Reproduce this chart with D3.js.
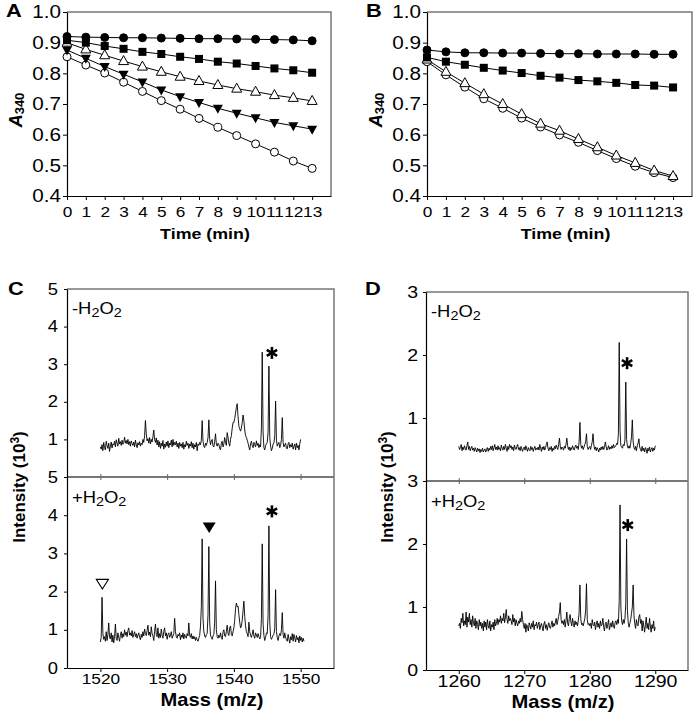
<!DOCTYPE html>
<html>
<head>
<meta charset="utf-8">
<script src="https://cdn.jsdelivr.net/npm/d3@7"></script>
<style>
    body { margin: 0; background: #fff; }
    svg { display: block; }
</style>
</head>
<body>
<svg id="fig"></svg>
<script>
// ---- data: A340 time courses ----
const timeMin = [0, 1, 2, 3, 4, 5, 6, 7, 8, 9, 10, 11, 12, 13];
const a340Ticks = [0.4, 0.5, 0.6, 0.7, 0.8, 0.9, 1.0];

const aFilledCircle = [0.920, 0.918, 0.917, 0.916, 0.916, 0.915, 0.914, 0.913, 0.913, 0.912, 0.911, 0.910, 0.909, 0.906];
const aFilledSquare = [0.908, 0.900, 0.889, 0.880, 0.870, 0.863, 0.854, 0.847, 0.838, 0.832, 0.824, 0.816, 0.810, 0.802];
const aOpenTriUp = [0.900, 0.878, 0.859, 0.840, 0.822, 0.805, 0.789, 0.775, 0.762, 0.750, 0.740, 0.729, 0.720, 0.710];
const aFilledTriDown = [0.876, 0.849, 0.822, 0.797, 0.772, 0.746, 0.724, 0.705, 0.686, 0.670, 0.655, 0.640, 0.629, 0.618];
const aOpenCircle = [0.854, 0.827, 0.801, 0.771, 0.741, 0.711, 0.683, 0.653, 0.624, 0.597, 0.570, 0.543, 0.514, 0.490];

const bFilledCircle = [0.876, 0.870, 0.867, 0.867, 0.866, 0.866, 0.865, 0.864, 0.864, 0.863, 0.863, 0.863, 0.862, 0.862];
const bFilledSquare = [0.852, 0.838, 0.828, 0.818, 0.809, 0.801, 0.792, 0.786, 0.778, 0.774, 0.769, 0.762, 0.760, 0.754];
const bOpenTriUp = [0.845, 0.805, 0.768, 0.732, 0.700, 0.667, 0.636, 0.613, 0.586, 0.559, 0.532, 0.508, 0.483, 0.465];
const bOpenCircle = [0.838, 0.795, 0.755, 0.717, 0.686, 0.654, 0.625, 0.599, 0.575, 0.548, 0.522, 0.497, 0.476, 0.460];

// ---- data: MALDI spectra, intensity (10^3), one value every 0.125 m/z ----
const specStep = 0.125;
const cStart = 1520;
const cMinus = [
    0.80, 0.74, 0.86, 0.70, 0.92, 0.78, 0.72, 0.95, 0.84, 0.76, 0.90, 0.68, 0.82, 0.93, 0.77, 0.88,
    0.85, 0.95, 0.80, 0.99, 0.90, 0.82, 1.03, 0.88, 0.94, 0.84, 0.98, 0.87, 0.92, 1.06, 0.90, 0.97,
    0.88, 1.00, 0.86, 0.94, 0.82, 0.96, 0.89, 0.84, 0.93, 0.80, 0.98, 0.86, 0.78, 0.91, 0.85, 0.94,
    0.82, 0.90, 0.86, 1.00, 0.92, 1.10, 1.50, 1.15, 0.96, 1.02, 0.90, 1.05, 0.88, 1.00, 0.93, 1.08,
    1.25, 1.00, 0.92, 1.04, 0.85, 0.98, 0.80, 0.94, 0.76, 0.90, 0.82, 0.97, 0.74, 0.88, 0.79, 0.93,
    0.82, 0.96, 0.78, 0.90, 0.85, 0.98, 0.80, 1.00, 0.84, 0.92, 0.86, 0.95, 0.80, 0.90, 0.76, 0.92,
    0.82, 0.88, 0.78, 0.92, 0.74, 0.86, 0.80, 0.95, 0.84, 0.90, 0.76, 0.88, 0.82, 0.94, 0.78, 0.90,
    0.74, 0.86, 0.80, 0.92, 0.70, 0.88, 0.84, 0.92, 0.86, 0.98, 1.50, 0.95, 0.82, 0.78, 0.90, 0.84,
    0.92, 1.05, 1.52, 1.00, 0.86, 0.96, 1.00, 0.82, 0.80, 0.95, 1.15, 0.88, 0.82, 0.90, 0.86, 0.76,
    0.72, 0.90, 0.95, 0.80, 0.88, 1.05, 0.92, 0.84, 1.18, 1.05, 0.90, 0.82, 1.00, 1.10, 1.30, 1.45,
    1.45, 1.55, 1.70, 1.85, 1.95, 1.60, 1.35, 1.28, 1.22, 1.30, 1.45, 1.65, 1.50, 1.25, 1.10, 1.05,
    0.98, 0.90, 0.80, 0.72, 0.88, 0.95, 0.84, 0.78, 0.92, 0.86, 0.80, 0.96, 0.84, 0.90, 0.78, 0.86,
    0.80, 1.30, 3.32, 1.20, 0.78, 0.72, 0.84, 0.88, 0.92, 1.20, 2.95, 1.05, 0.82, 0.70, 0.76, 0.88,
    0.90, 1.10, 2.02, 0.98, 0.82, 0.88, 0.92, 0.78, 0.84, 1.00, 1.58, 0.92, 0.80, 0.86, 0.90, 0.76,
    0.75, 0.88, 0.92, 0.78, 0.86, 0.80, 0.90, 0.74, 0.82, 0.88, 0.72, 0.90, 0.78, 0.84, 0.72, 0.88,
    1.00
];
const cPlus = [
    0.68, 0.80, 1.85, 0.90, 0.75, 0.82, 0.70, 0.95, 0.72, 0.88, 1.18, 0.80, 0.76, 0.92, 0.68, 0.86,
    0.66, 0.82, 1.15, 0.78, 0.72, 0.92, 0.80, 0.70, 0.86, 0.95, 0.78, 0.90, 0.82, 1.00, 0.86, 0.94,
    0.82, 0.98, 1.05, 0.86, 0.92, 0.84, 0.98, 0.80, 0.88, 0.95, 0.82, 0.90, 0.78, 0.86, 0.92, 0.80,
    0.74, 0.88, 0.80, 0.95, 0.84, 1.02, 0.90, 0.85, 0.98, 1.12, 0.86, 0.94, 0.82, 1.08, 0.90, 0.84,
    0.72, 0.96, 1.15, 0.88, 0.82, 1.05, 0.78, 0.90, 0.80, 1.02, 0.86, 0.78, 0.96, 1.05, 0.84, 0.92,
    0.75, 0.88, 0.92, 0.80, 0.86, 0.95, 0.78, 0.84, 0.90, 1.30, 0.95, 0.82, 0.78, 0.88, 0.84, 0.92,
    0.74, 0.86, 0.80, 0.92, 0.76, 0.88, 0.82, 0.78, 0.90, 0.84, 1.18, 0.86, 0.80, 0.90, 0.76, 0.84,
    0.76, 0.82, 0.72, 0.80, 0.74, 0.70, 0.78, 0.85, 1.10, 1.60, 3.38, 1.30, 0.95, 0.84, 0.80, 0.88,
    0.90, 1.40, 3.18, 1.20, 0.86, 0.80, 0.75, 0.84, 0.88, 1.20, 2.28, 1.00, 0.82, 0.78, 0.86, 0.80,
    0.92, 0.80, 0.75, 0.95, 1.00, 0.84, 0.82, 0.96, 1.12, 0.90, 0.85, 1.05, 1.10, 0.88, 0.84, 0.95,
    1.05, 1.25, 1.55, 1.70, 1.60, 1.62, 1.40, 1.20, 1.05, 1.10, 1.25, 1.50, 1.75, 1.35, 1.10, 0.95,
    0.90, 0.82, 1.20, 0.95, 0.86, 0.80, 0.88, 1.00, 0.84, 0.78, 0.92, 0.86, 0.80, 0.90, 0.82, 0.76,
    0.80, 1.30, 3.25, 1.15, 0.85, 0.72, 0.80, 0.92, 0.90, 1.40, 3.72, 1.20, 0.82, 0.75, 0.80, 0.86,
    0.88, 1.05, 2.05, 0.95, 0.80, 0.72, 0.84, 0.90, 0.85, 1.00, 1.45, 0.88, 0.78, 0.92, 0.80, 0.74,
    0.70, 0.88, 0.76, 0.65, 0.82, 0.74, 0.90, 0.70, 0.88, 0.78, 0.68, 0.85, 0.74, 0.80, 0.66, 0.84,
    0.72, 0.80, 0.68, 0.78, 0.70
];
const dStart = 1260;
const dMinus = [
    0.55, 0.50, 0.53, 0.58, 0.48, 0.54, 0.50, 0.56, 0.52, 0.49, 0.56, 0.62, 0.50, 0.55, 0.48, 0.52,
    0.55, 0.49, 0.52, 0.47, 0.53, 0.50, 0.46, 0.52, 0.48, 0.51, 0.45, 0.50, 0.47, 0.52, 0.46, 0.49,
    0.51, 0.46, 0.50, 0.53, 0.47, 0.52, 0.49, 0.55, 0.50, 0.56, 0.48, 0.53, 0.58, 0.50, 0.54, 0.49,
    0.56, 0.50, 0.53, 0.48, 0.57, 0.52, 0.49, 0.55, 0.50, 0.58, 0.52, 0.47, 0.55, 0.50, 0.58, 0.53,
    0.56, 0.50, 0.54, 0.48, 0.57, 0.52, 0.50, 0.55, 0.58, 0.50, 0.53, 0.48, 0.55, 0.51, 0.47, 0.52,
    0.54, 0.49, 0.56, 0.51, 0.47, 0.53, 0.50, 0.48, 0.55, 0.50, 0.53, 0.47, 0.52, 0.55, 0.49, 0.52,
    0.50, 0.54, 0.49, 0.58, 0.52, 0.47, 0.54, 0.50, 0.55, 0.49, 0.53, 0.58, 0.62, 0.52, 0.48, 0.53,
    0.50, 0.55, 0.47, 0.52, 0.49, 0.55, 0.51, 0.57, 0.53, 0.50, 0.58, 0.68, 0.55, 0.50, 0.54, 0.52,
    0.49, 0.55, 0.52, 0.58, 0.68, 0.56, 0.50, 0.54, 0.48, 0.53, 0.50, 0.56, 0.52, 0.49, 0.54, 0.57,
    0.52, 0.55, 0.50, 0.62, 0.93, 0.58, 0.52, 0.56, 0.50, 0.54, 0.58, 0.62, 0.75, 0.55, 0.50, 0.53,
    0.55, 0.50, 0.56, 0.62, 0.75, 0.57, 0.50, 0.54, 0.48, 0.53, 0.50, 0.46, 0.52, 0.49, 0.54, 0.50,
    0.55, 0.50, 0.53, 0.62, 0.55, 0.49, 0.52, 0.56, 0.50, 0.54, 0.51, 0.56, 0.52, 0.58, 0.53, 0.55,
    0.56, 0.60, 0.58, 0.75, 2.20, 0.80, 0.56, 0.54, 0.52, 0.58, 0.56, 0.65, 1.57, 0.66, 0.55, 0.52,
    0.56, 0.52, 0.60, 0.70, 0.97, 0.62, 0.53, 0.50, 0.55, 0.48, 0.56, 0.60, 0.67, 0.54, 0.50, 0.47,
    0.55, 0.48, 0.52, 0.46, 0.53, 0.50, 0.44, 0.52, 0.48, 0.54, 0.46, 0.50, 0.53, 0.47, 0.52, 0.49,
    0.56
];
const dPlus = [
    0.70, 0.74, 0.66, 0.82, 0.75, 0.90, 0.70, 0.78, 0.72, 0.92, 0.68, 0.84, 0.76, 0.90, 0.72, 0.80,
    0.68, 0.86, 0.74, 0.70, 0.82, 0.66, 0.78, 0.72, 0.64, 0.80, 0.70, 0.76, 0.66, 0.74, 0.62, 0.78,
    0.68, 0.76, 0.64, 0.80, 0.70, 0.66, 0.78, 0.62, 0.72, 0.68, 0.76, 0.64, 0.80, 0.70, 0.74, 0.82,
    0.72, 0.80, 0.76, 0.86, 0.74, 0.82, 0.78, 0.90, 0.75, 0.84, 0.96, 0.80, 0.74, 0.86, 0.78, 0.82,
    0.78, 0.72, 0.88, 0.76, 0.82, 0.70, 0.80, 0.74, 0.70, 0.78, 0.74, 0.82, 0.76, 0.93, 0.80, 0.72,
    0.66, 0.74, 0.60, 0.72, 0.68, 0.62, 0.75, 0.70, 0.65, 0.74, 0.68, 0.78, 0.64, 0.72, 0.70, 0.76,
    0.66, 0.72, 0.76, 0.64, 0.70, 0.74, 0.68, 0.62, 0.73, 0.77, 0.66, 0.72, 0.63, 0.70, 0.75, 0.68,
    0.66, 0.72, 0.78, 0.68, 0.74, 0.70, 0.76, 0.82, 0.72, 0.78, 0.85, 0.92, 1.07, 0.80, 0.74, 0.78,
    0.72, 0.80, 0.68, 0.78, 0.92, 0.74, 0.70, 0.82, 0.88, 0.76, 0.70, 0.82, 0.74, 0.68, 0.78, 0.72,
    0.76, 0.70, 0.78, 0.90, 1.35, 0.82, 0.72, 0.74, 0.70, 0.76, 0.82, 0.95, 1.37, 0.80, 0.72, 0.74,
    0.70, 0.74, 0.66, 0.80, 0.72, 0.70, 0.76, 0.64, 0.72, 0.78, 0.68, 0.74, 0.66, 0.78, 0.70, 0.72,
    0.82, 0.68, 0.62, 0.74, 0.76, 0.66, 0.72, 0.80, 0.64, 0.70, 0.75, 0.68, 0.78, 0.70, 0.66, 0.76,
    0.78, 0.72, 0.80, 0.74, 1.10, 2.62, 1.00, 0.78, 0.72, 0.80, 0.74, 0.82, 1.05, 2.08, 0.95, 0.75,
    0.68, 0.74, 0.80, 0.90, 1.00, 1.35, 0.86, 0.74, 0.66, 0.80, 0.72, 0.70, 0.84, 0.88, 0.74, 0.80,
    0.62, 0.78, 0.70, 0.60, 0.72, 0.84, 0.66, 0.74, 0.64, 0.82, 0.70, 0.60, 0.72, 0.66, 0.78, 0.62,
    0.68
];

const cMassTicks = [1520, 1530, 1540, 1550];
const dMassTicks = [1260, 1270, 1280, 1290];

// peak annotations [m/z, intensity]
const cMinusStar = [1545.7, 3.3];
const cPlusStar = [1545.7, 4.1];
const cPlusOpenTri = [1520.3, 2.2];
const cPlusFilledTri = [1536.3, 3.68];
const dMinusStar = [1285.7, 1.87];
const dPlusStar = [1285.8, 2.3];

// ---- setup ----
const W = 693, H = 717;
const FONT = '"Liberation Sans", Arial, Helvetica, sans-serif';
const SX = 1.15; // the source figure's lettering is a little wider than Arial

const svg = d3.select("#fig")
    .attr("width", W)
    .attr("height", H)
    .style("font-family", FONT);

svg.append("rect").attr("width", W).attr("height", H).attr("fill", "#fff");

// widen text horizontally about its own anchor
function stretch(sel) {
    sel.each(function () {
        const t = d3.select(this);
        const x = +t.attr("x") || 0;
        t.attr("transform", `translate(${x},0) scale(${SX},1) translate(${-x},0)`);
    });
    return sel;
}

function styleAxis(g, size) {
    g.select(".domain").attr("stroke", "#000").attr("stroke-width", 1.2);
    g.selectAll(".tick line").attr("stroke", "#000");
    g.selectAll(".tick text")
        .attr("fill", "#000")
        .style("font-family", FONT)
        .style("font-size", size + "px")
        .call(stretch);
}

function drawMarker(g, type, cx, cy) {
    if (type === "circle" || type === "openCircle") {
        g.append("circle")
            .attr("cx", cx).attr("cy", cy).attr("r", 4)
            .attr("fill", type === "circle" ? "#000" : "#fff")
            .attr("stroke", "#000").attr("stroke-width", 1);
    } else if (type === "square") {
        g.append("rect")
            .attr("x", cx - 4).attr("y", cy - 4)
            .attr("width", 8).attr("height", 8)
            .attr("fill", "#000");
    } else if (type === "openTriUp") {
        g.append("path")
            .attr("d", `M${cx},${cy - 5.5}L${cx + 5},${cy + 3.5}L${cx - 5},${cy + 3.5}Z`)
            .attr("fill", "#fff").attr("stroke", "#000").attr("stroke-width", 1);
    } else if (type === "triDown") {
        g.append("path")
            .attr("d", `M${cx},${cy + 5.5}L${cx + 5},${cy - 3.5}L${cx - 5},${cy - 3.5}Z`)
            .attr("fill", "#000");
    }
}

function drawAsterisk(g, cx, cy) {
    const r = 6;
    [90, 30, 150].forEach(a => {
        const t = a * Math.PI / 180;
        g.append("line")
            .attr("x1", cx - r * Math.cos(t)).attr("y1", cy - r * Math.sin(t))
            .attr("x2", cx + r * Math.cos(t)).attr("y2", cy + r * Math.sin(t))
            .attr("stroke", "#000").attr("stroke-width", 2.6);
    });
}

function panelLetter(txt, x, y) {
    svg.append("text")
        .attr("x", x).attr("y", y)
        .style("font-size", "19px")
        .style("font-weight", "bold")
        .text(txt)
        .call(stretch);
}

// ---- time-course panels (A, B) ----
function drawTimePanel(box, series) {
    const x = d3.scaleLinear().domain([0, 14]).range([box.left, box.right]);
    const y = d3.scaleLinear().domain([0.4, 1.0]).range([box.bottom, box.top]);
    const g = svg.append("g");

    // grey frame top / right
    g.append("path")
        .attr("d", `M${box.left},${box.top}H${box.right}V${box.bottom}`)
        .attr("fill", "none").attr("stroke", "#777").attr("stroke-width", 1.5);

    g.append("g")
        .attr("transform", `translate(0,${box.bottom})`)
        .call(d3.axisBottom(x).tickValues(timeMin).tickSize(4).tickSizeOuter(0).tickPadding(6).tickFormat(d3.format("d")))
        .call(styleAxis, 15);

    g.append("g")
        .attr("transform", `translate(${box.left},0)`)
        .call(d3.axisLeft(y).tickValues(a340Ticks).tickSize(4).tickSizeOuter(0).tickPadding(2).tickFormat(d3.format(".1f")))
        .call(styleAxis, 18);

    const line = d3.line().x((d, i) => x(timeMin[i])).y(d => y(d));

    series.forEach(s => {
        g.append("path")
            .attr("d", line(s.values))
            .attr("fill", "none").attr("stroke", "#000").attr("stroke-width", 1);
    });
    series.forEach(s => {
        s.values.forEach((v, i) => drawMarker(g, s.type, x(timeMin[i]), y(v)));
    });

    // x label
    g.append("text")
        .attr("x", (box.left + box.right) / 2 + 6)
        .attr("y", box.bottom + 43)
        .attr("text-anchor", "middle")
        .style("font-size", "15.5px").style("font-weight", "bold")
        .text("Time (min)")
        .call(stretch);

    // y label A340
    const yl = g.append("text")
        .attr("transform", `translate(${box.left - 45},${(box.top + box.bottom) / 2 + 6}) rotate(-90)`)
        .attr("text-anchor", "middle")
        .style("font-size", "18px").style("font-weight", "bold");
    yl.append("tspan").style("font-style", "italic").text("A");
    yl.append("tspan").attr("dy", 2).style("font-size", "13px").text("340");
}

drawTimePanel({ left: 67, right: 331, top: 12, bottom: 196 }, [
    { type: "openCircle", values: aOpenCircle },
    { type: "triDown", values: aFilledTriDown },
    { type: "openTriUp", values: aOpenTriUp },
    { type: "square", values: aFilledSquare },
    { type: "circle", values: aFilledCircle }
]);
drawTimePanel({ left: 427, right: 692, top: 12, bottom: 196 }, [
    { type: "openCircle", values: bOpenCircle },
    { type: "openTriUp", values: bOpenTriUp },
    { type: "square", values: bFilledSquare },
    { type: "circle", values: bFilledCircle }
]);
panelLetter("A", 6, 17);
panelLetter("B", 366, 17);

// ---- spectra panels (C, D) ----
function h2o2Label(g, x, y, sign) {
    const t = g.append("text").attr("x", x).attr("y", y).style("font-size", "16px");
    t.append("tspan").text(sign + "H");
    t.append("tspan").attr("dy", 3).style("font-size", "12.5px").text("2");
    t.append("tspan").attr("dy", -3).text("O");
    t.append("tspan").attr("dy", 3).style("font-size", "12.5px").text("2");
    t.call(stretch);
}

function drawSpecPanel(box, opt) {
    const x = d3.scaleLinear().domain(opt.xDomain).range([box.left, box.right]);
    const yTop = d3.scaleLinear().domain([0, opt.yMax]).range([box.mid, box.top]);
    const yBot = d3.scaleLinear().domain([0, opt.yMax]).range([box.bottom, box.mid]);
    const g = svg.append("g");

    // grey frame + divider
    g.append("path")
        .attr("d", `M${box.left},${box.top}H${box.right}V${box.bottom}`)
        .attr("fill", "none").attr("stroke", "#777").attr("stroke-width", 1.5);
    g.append("line")
        .attr("x1", box.left).attr("x2", box.right)
        .attr("y1", box.mid).attr("y2", box.mid)
        .attr("stroke", "#777").attr("stroke-width", 2);

    // ticks on both sides of the divider
    g.append("g").attr("transform", `translate(0,${box.mid})`)
        .call(d3.axisTop(x).tickValues(opt.xTicks).tickSize(3).tickSizeOuter(0).tickFormat(""))
        .call(s => s.select(".domain").remove())
        .call(s => s.selectAll(".tick line").attr("stroke", "#666"));
    g.append("g").attr("transform", `translate(0,${box.mid})`)
        .call(d3.axisBottom(x).tickValues(opt.xTicks).tickSize(3).tickSizeOuter(0).tickFormat(""))
        .call(s => s.select(".domain").remove())
        .call(s => s.selectAll(".tick line").attr("stroke", "#666"));

    // bottom axis
    g.append("g").attr("transform", `translate(0,${box.bottom})`)
        .call(d3.axisBottom(x).tickValues(opt.xTicks).tickSize(4).tickSizeOuter(0).tickPadding(1).tickFormat(d3.format("d")))
        .call(styleAxis, opt.xFont);

    // left axes
    g.append("g").attr("transform", `translate(${box.left},0)`)
        .call(d3.axisLeft(yTop).tickValues(d3.range(1, opt.yMax + 1)).tickSize(3).tickSizeOuter(0).tickPadding(opt.yPad).tickFormat(d3.format("d")))
        .call(styleAxis, opt.yFont);
    g.append("g").attr("transform", `translate(${box.left},0)`)
        .call(d3.axisLeft(yBot).tickValues(d3.range(0, opt.yMax + 1)).tickSize(3).tickSizeOuter(0).tickPadding(opt.yPad).tickFormat(d3.format("d")))
        .call(styleAxis, opt.yFont);

    // traces
    const trace = (vals, y) => d3.line()
        .x((d, i) => x(opt.start + i * specStep))
        .y(d => y(d))(vals);
    g.append("path").attr("d", trace(opt.minus, yTop))
        .attr("fill", "none").attr("stroke", "#000").attr("stroke-width", 0.9);
    g.append("path").attr("d", trace(opt.plus, yBot))
        .attr("fill", "none").attr("stroke", "#000").attr("stroke-width", 0.9);

    h2o2Label(g, box.left + 5, box.top + 25, "-");
    h2o2Label(g, box.left + 5, box.mid + 26, "+");

    drawAsterisk(g, x(opt.minusStar[0]), yTop(opt.minusStar[1]));
    drawAsterisk(g, x(opt.plusStar[0]), yBot(opt.plusStar[1]));

    if (opt.openTri) {
        const [cx, cy] = [x(opt.openTri[0]), yBot(opt.openTri[1])];
        g.append("path")
            .attr("d", `M${cx - 6},${cy - 4.5}H${cx + 6}L${cx},${cy + 5}Z`)
            .attr("fill", "#fff").attr("stroke", "#000").attr("stroke-width", 1.2);
    }
    if (opt.filledTri) {
        const [cx, cy] = [x(opt.filledTri[0]), yBot(opt.filledTri[1])];
        g.append("path")
            .attr("d", `M${cx - 6.5},${cy - 5}H${cx + 6.5}L${cx},${cy + 5.5}Z`)
            .attr("fill", "#000");
    }

    // x label
    g.append("text")
        .attr("x", opt.xLabelX)
        .attr("y", box.bottom + 38)
        .attr("text-anchor", "middle")
        .style("font-size", "17.5px").style("font-weight", "bold")
        .text("Mass (m/z)")
        .call(stretch);

    // y label
    const yl = g.append("text")
        .attr("transform", `translate(${opt.yLabelX},${opt.yLabelY}) rotate(-90)`)
        .attr("text-anchor", "middle")
        .style("font-size", "17px").style("font-weight", "bold");
    yl.append("tspan").text("Intensity (10");
    yl.append("tspan").attr("dy", -6).style("font-size", "12px").text("3");
    yl.append("tspan").attr("dy", 6).text(")");
}

drawSpecPanel({ left: 67, right: 334, top: 289, mid: 477, bottom: 668 }, {
    xDomain: [1515, 1555], xTicks: cMassTicks, xFont: 15, yFont: 16, yPad: 6, yMax: 5,
    start: cStart, minus: cMinus, plus: cPlus,
    minusStar: cMinusStar, plusStar: cPlusStar,
    openTri: cPlusOpenTri, filledTri: cPlusFilledTri,
    xLabelX: 212, yLabelX: 25, yLabelY: 487
});
drawSpecPanel({ left: 426, right: 688, top: 292, mid: 481, bottom: 670 }, {
    xDomain: [1255, 1295], xTicks: dMassTicks, xFont: 17, yFont: 17, yPad: 5, yMax: 3,
    start: dStart, minus: dMinus, plus: dPlus,
    minusStar: dMinusStar, plusStar: dPlusStar,
    xLabelX: 563, yLabelX: 393, yLabelY: 487
});
panelLetter("C", 8, 295);
panelLetter("D", 365, 295);
</script>
</body>
</html>
